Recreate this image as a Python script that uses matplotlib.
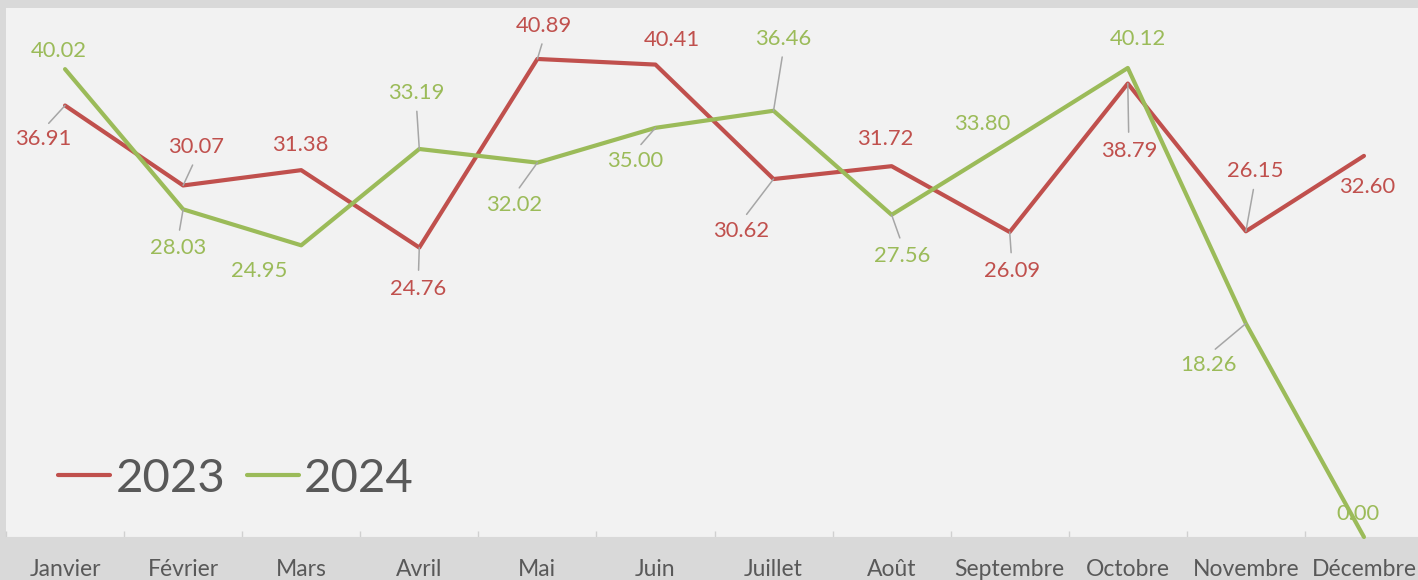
import matplotlib
matplotlib.use('Agg')
import matplotlib.pyplot as plt
import numpy as np

# ---- data ----------------------------------------------------------
months = ['Janvier', 'Février', 'Mars', 'Avril', 'Mai', 'Juin', 'Juillet',
          'Août', 'Septembre', 'Octobre', 'Novembre', 'Décembre']
vals_2023 = [36.91, 30.07, 31.38, 24.76, 40.89, 40.41, 30.62, 31.72,
             26.09, 38.79, 26.15, 32.60]
vals_2024 = [40.02, 28.03, 24.95, 33.19, 32.02, 35.00, 36.46, 27.56,
             33.80, 40.12, 18.26, 0.00]

# ---- label placement (pixel offsets from the point, leader on/off) --
off_2023 = [(-22, -34), (13, 38), (-1, 25), (-1, -41), (7, 33), (16, 25),
            (-32, -52), (-6, 27), (2, -39), (1, -67), (9, 60), (3, -31)]
lead_2023 = [1, 1, 0, 1, 1, 0, 1, 0, 1, 1, 1, 0]
off_2024 = [(-6, 18), (-5, -39), (-42, -26), (-3, 56), (-23, -42), (-20, -33),
            (10, 72), (11, -41), (-27, 18), (10, 29), (-37, -41), (-6, 23)]
lead_2024 = [0, 1, 0, 1, 1, 1, 1, 1, 0, 0, 1, 0]

RED = '#c0504d'
GREEN = '#9bbb59'
LEAD = '#a6a6a6'
TXT = '#595959'
FONT = 'Lato'

W, H = 1418, 580
fig = plt.figure(figsize=(W / 100, H / 100), dpi=100)
fig.patch.set_facecolor('#d9d9d9')
ax = fig.add_axes([6 / W, 43 / H, 1417 / W, 529 / H])
ax.set_facecolor('#f2f2f2')

x = np.arange(len(months))
ax.plot(x, vals_2023, color=RED, lw=3, solid_capstyle='round',
        solid_joinstyle='round', label='2023', zorder=3, clip_on=False)
ax.plot(x, vals_2024, color=GREEN, lw=3, solid_capstyle='round',
        solid_joinstyle='round', label='2024', zorder=4, clip_on=False)

ax.set_xlim(-0.5, 11.5)
ax.set_ylim(0, 45.25)


def add_labels(vals, offs, leads, color):
    for i, (v, (dx, dy), ld) in enumerate(zip(vals, offs, leads)):
        kw = {}
        if ld:
            rel = (0.5, 1.0) if dy < 0 else (0.5, 0.0)
            kw['arrowprops'] = dict(arrowstyle='-', color=LEAD, lw=1.1,
                                    shrinkA=6, shrinkB=0, relpos=rel,
                                    patchA=None)
        ax.annotate(f'{v:.2f}', xy=(i, v), xytext=(dx, dy),
                    textcoords='offset pixels', ha='center', va='center',
                    fontsize=15.8, color=color, family=FONT, zorder=5,
                    annotation_clip=False, **kw)


add_labels(vals_2023, off_2023, lead_2023, RED)
add_labels(vals_2024, off_2024, lead_2024, GREEN)

# x axis: labels at centres, small ticks on the category boundaries
ax.set_xticks(x)
ax.set_xticklabels(months, fontsize=16.5, color=TXT, family=FONT)
ax.tick_params(axis='x', which='major', length=0, pad=15.5)
ax.set_xticks(np.arange(-0.5, 12, 1), minor=True)
ax.tick_params(axis='x', which='minor', direction='in', length=4.5,
               width=1, color='#d0d0d0')
ax.set_yticks([])
for sp in ['top', 'right', 'left']:
    ax.spines[sp].set_visible(False)
ax.spines['bottom'].set_color('#d9d9d9')

leg = ax.legend(loc='center left', bbox_to_anchor=(52 / 1417, 58 / 529),
                ncol=2, frameon=False, borderpad=0, borderaxespad=0,
                handlelength=1.1, handletextpad=0.12, columnspacing=0.45,
                prop={'family': FONT, 'size': 34})
for t in leg.get_texts():
    t.set_color(TXT)

fig.savefig('out.png', dpi=100, facecolor=fig.get_facecolor())
